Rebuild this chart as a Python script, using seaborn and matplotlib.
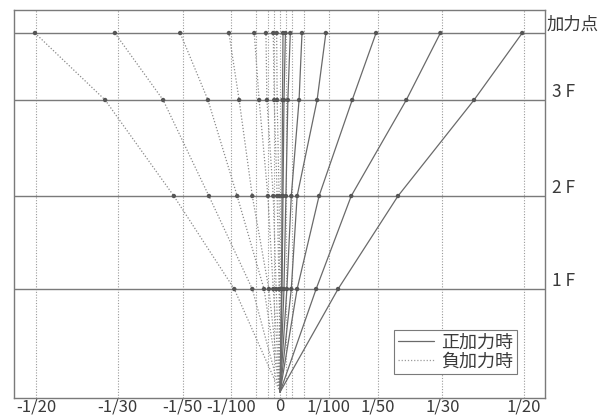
import numpy as np
import pandas as pd
import matplotlib
matplotlib.use("Agg")
import matplotlib.pyplot as plt
from matplotlib.lines import Line2D
import seaborn as sns

# ---------------- data ----------------
level_names = ["", "1 F", "2 F", "3 F", "加力点"]
level_heights = [0, 103, 196, 292, 359]          # ground, 1F, 2F, 3F, loading point

tick_values = [-1/20, -1/30, -1/50, -1/100, 0, 1/100, 1/50, 1/30, 1/20]
tick_labels = ["-1/20", "-1/30", "-1/50", "-1/100", "0", "1/100", "1/50", "1/30", "1/20"]
grid_values = [-1/20, -1/30, -1/50, -1/100, -1/200, -1/400, -1/800, 0,
               1/800, 1/400, 1/200, 1/100, 1/50, 1/30, 1/20]

# drift at each level (ground, 1F, 2F, 3F, loading point) for each cycle
pos_names = ["+1/1600", "+1/800", "+1/400", "+1/200", "+1/100", "+1/50", "+1/30", "+1/20"]
pos_1600 = [0, 0.0003, 0.0004, 0.0005, 0.0006]
pos_800 = [0, 0.0004, 0.0006, 0.0008, 0.0011]
pos_400 = [0, 0.0008, 0.0012, 0.0016, 0.0021]
pos_200 = [0, 0.0014, 0.0023, 0.0039, 0.0045]
pos_100 = [0, 0.0023, 0.0035, 0.0076, 0.0094]
pos_50 = [0, 0.0035, 0.0080, 0.0148, 0.0197]
pos_30 = [0, 0.0074, 0.0146, 0.0259, 0.0329]
pos_20 = [0, 0.0119, 0.0242, 0.0398, 0.0497]

neg_names = ["-1/1600", "-1/800", "-1/400", "-1/200", "-1/100", "-1/50", "-1/30", "-1/20"]
neg_1600 = [0, -0.0001, -0.0002, -0.0006, -0.0007]
neg_800 = [0, -0.0002, -0.0006, -0.0012, -0.0014]
neg_400 = [0, -0.0008, -0.0014, -0.0027, -0.0029]
neg_200 = [0, -0.0014, -0.0025, -0.0043, -0.0053]
neg_100 = [0, -0.0023, -0.0057, -0.0084, -0.0105]
neg_50 = [0, -0.0033, -0.0088, -0.0148, -0.0205]
neg_30 = [0, -0.0057, -0.0146, -0.0240, -0.0339]
neg_20 = [0, -0.0094, -0.0218, -0.0359, -0.0503]

legend_labels = ["正加力時", "負加力時"]

# ---------------- build table ----------------
rows = []
for name, vals in zip(pos_names, [pos_1600, pos_800, pos_400, pos_200, pos_100, pos_50, pos_30, pos_20]):
    for h, v in zip(level_heights, vals):
        rows.append(dict(cycle=name, dir="pos", height=h, drift=v))
for name, vals in zip(neg_names, [neg_1600, neg_800, neg_400, neg_200, neg_100, neg_50, neg_30, neg_20]):
    for h, v in zip(level_heights, vals):
        rows.append(dict(cycle=name, dir="neg", height=h, drift=v))
df = pd.DataFrame(rows)

# ---------------- plot ----------------
sns.set_theme(style="white")
plt.rcParams["font.family"] = ["Noto Sans CJK JP", "DejaVu Sans"]

fig = plt.figure(figsize=(6.07, 4.19), dpi=100)
ax = fig.add_axes([0.0231, 0.0501, 0.875, 0.926])

text_c = "#3a3a3a"
grid_c = "#9a9a9a"

for g in grid_values:
    ax.axvline(g, color=grid_c, lw=0.8, ls=(0, (1, 1.5)), zorder=1)
for h in level_heights[1:]:
    ax.axhline(h, color="#7a7a7a", lw=1.0, zorder=1)

sns.lineplot(data=df[df["dir"] == "neg"], x="drift", y="height", units="cycle",
             estimator=None, sort=False, color="#8a8a8a", lw=0.9,
             dashes=False, legend=False, ax=ax, zorder=2)
for line in ax.lines[-len(neg_names):]:
    line.set_linestyle((0, (1, 1.5)))
sns.lineplot(data=df[df["dir"] == "pos"], x="drift", y="height", units="cycle",
             estimator=None, sort=False, color="#6a6a6a", lw=0.9,
             legend=False, ax=ax, zorder=3)

pts = df[df["height"] > 0]
sns.scatterplot(data=pts, x="drift", y="height", color="#555555", s=10,
                edgecolor="none", legend=False, ax=ax, zorder=4)

ax.set_xlim(-0.0546, 0.0544)
ax.set_ylim(-6, 382)
ax.set_xticks(tick_values)
ax.set_xticklabels(tick_labels, fontsize=12, color=text_c)
ax.set_yticks([])
ax.tick_params(axis="x", length=0, pad=0.3)
ax.set_xlabel("")
ax.set_ylabel("")

for sp in ax.spines.values():
    sp.set_color("#7a7a7a")
    sp.set_linewidth(1.0)

trans = ax.get_yaxis_transform()
for name, h in zip(level_names[1:], level_heights[1:]):
    xpos = 1.002 if name == "加力点" else 1.013
    ax.text(xpos, h + 8, name, transform=trans, ha="left", va="center",
            fontsize=12.5, color=text_c, clip_on=False)

handles = [Line2D([], [], color="#6a6a6a", lw=0.9),
           Line2D([], [], color="#9a9a9a", lw=0.9, ls=(0, (1, 1.5)))]
leg = ax.legend(handles, legend_labels, loc="lower left",
                bbox_to_anchor=(0.716, 0.062), frameon=True, fancybox=False,
                edgecolor="#7a7a7a", framealpha=1, fontsize=13,
                handlelength=2.0, handletextpad=0.4, borderpad=0.2,
                labelspacing=0.05, borderaxespad=0)
leg.get_frame().set_linewidth(0.8)
for t in leg.get_texts():
    t.set_color(text_c)

fig.savefig("out.png", dpi=100)
